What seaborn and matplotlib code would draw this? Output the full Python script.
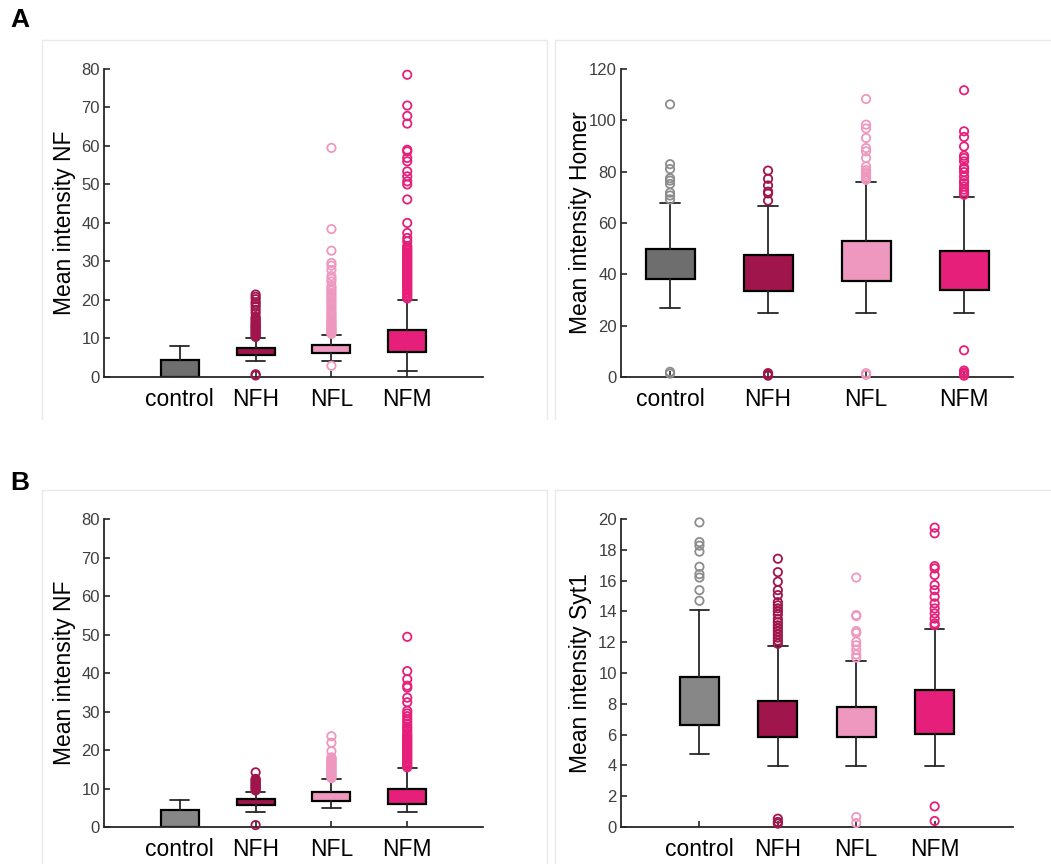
import numpy as np
import matplotlib
matplotlib.use("Agg")
import matplotlib.pyplot as plt
from matplotlib.lines import Line2D
import seaborn as sns
import pandas as pd

# ---------------------------------------------------------------
# Data
# ---------------------------------------------------------------
categories = ["control", "NFH", "NFL", "NFM"]

# A - left : Mean intensity NF
a_nf_q1 = [0.0, 5.6, 6.2, 6.4]
a_nf_q3 = [4.5, 7.5, 8.3, 12.1]
a_nf_lo = [0.0, 4.1, 4.1, 1.5]
a_nf_hi = [8.0, 10.1, 11.0, 20.1]
a_nf_fliers = [
    [],
    [0.4, 0.7, 10.4, 10.7, 11.0, 11.3, 11.6, 11.9, 12.2, 12.5, 12.8, 13.1, 13.4,
     13.7, 14.0, 14.4, 14.8, 15.2, 15.6, 16.6, 17.4, 18.2, 18.9, 19.4, 20.2, 20.8, 21.4],
    [2.9, 11.2, 11.5, 11.8, 12.1, 12.4, 12.7, 13.0, 13.4, 13.8, 14.2, 14.6, 15.0,
     15.5, 16.0, 16.5, 17.0, 17.6, 18.2, 18.8, 19.4, 20.0, 20.6, 21.2, 21.8, 22.4,
     23.0, 23.6, 24.8, 25.5, 26.2, 27.8, 28.9, 29.6, 32.8, 38.4, 59.5],
    [20.4, 20.8, 21.2, 21.6, 22.0, 22.4, 22.8, 23.2, 23.6, 24.0, 24.4, 24.8, 25.2,
     25.6, 26.0, 26.4, 26.8, 27.2, 27.6, 28.0, 28.4, 28.8, 29.2, 29.6, 30.0, 30.4,
     30.8, 31.2, 31.6, 32.0, 32.4, 32.8, 33.2, 33.6, 34.0, 35.2, 36.1, 37.4, 40.0,
     46.1, 50.0, 50.8, 52.1, 53.4, 56.0, 56.9, 58.6, 59.0, 65.8, 67.8, 70.5, 78.5],
]

# A - right : Mean intensity Homer
a_homer_q1 = [38.3, 33.6, 37.4, 34.0]
a_homer_q3 = [49.9, 47.4, 52.8, 48.9]
a_homer_lo = [26.9, 24.9, 24.9, 24.9]
a_homer_hi = [67.7, 66.8, 76.1, 70.0]
a_homer_fliers = [
    [1.3, 2.0, 69.2, 70.7, 71.8, 75.2, 76.5, 77.4, 81.0, 82.9, 106.2],
    [0.5, 1.0, 1.5, 68.7, 71.5, 72.2, 74.6, 77.2, 80.4],
    [0.8, 1.5, 76.8, 77.5, 78.2, 79.0, 79.8, 80.6, 82.0, 85.3, 87.9, 89.2, 93.1,
     96.8, 98.3, 108.3],
    [0.5, 1.2, 1.8, 2.5, 10.4, 71.0, 72.0, 73.0, 74.2, 75.5, 76.5, 78.1, 79.8,
     81.0, 81.7, 84.0, 85.3, 86.2, 89.8, 93.5, 95.7, 111.7],
]

# B - left : Mean intensity NF
b_nf_q1 = [0.0, 5.7, 6.8, 5.9]
b_nf_q3 = [4.4, 7.4, 9.2, 9.8]
b_nf_lo = [0.0, 4.0, 5.0, 4.0]
b_nf_hi = [7.0, 9.2, 12.4, 15.2]
b_nf_fliers = [
    [],
    [0.5, 9.5, 9.8, 10.1, 10.4, 10.7, 11.0, 11.3, 11.6, 11.9, 12.2, 12.5, 14.2],
    [12.7, 13.0, 13.3, 13.6, 13.9, 14.2, 14.5, 14.8, 15.1, 15.4, 15.7, 16.0, 16.3,
     16.6, 16.9, 17.2, 17.5, 17.8, 18.1, 19.7, 21.9, 23.6],
    [15.5, 15.9, 16.3, 16.7, 17.1, 17.5, 17.9, 18.3, 18.7, 19.1, 19.5, 19.9, 20.3,
     20.7, 21.1, 21.5, 21.9, 22.3, 22.7, 23.1, 23.5, 23.9, 24.4, 25.0, 25.6, 26.1,
     26.8, 27.5, 28.1, 28.8, 29.5, 30.2, 32.4, 33.6, 36.2, 36.7, 38.4, 40.5, 49.4],
]

# B - right : Mean intensity Syt1
b_syt_q1 = [6.65, 5.83, 5.83, 6.02]
b_syt_q3 = [9.71, 8.21, 7.82, 8.88]
b_syt_lo = [4.72, 3.99, 3.99, 3.99]
b_syt_hi = [14.06, 11.74, 10.81, 12.87]
b_syt_fliers = [
    [14.69, 15.38, 16.2, 16.42, 16.9, 17.88, 18.27, 18.5, 19.78],
    [0.22, 0.33, 0.54, 11.9, 12.1, 12.3, 12.5, 12.7, 12.9, 13.1, 13.3, 13.5, 13.8,
     14.0, 14.2, 14.4, 14.6, 15.06, 15.38, 15.93, 16.55, 17.42],
    [0.26, 0.65, 11.0, 11.2, 11.5, 11.8, 12.03, 12.6, 12.72, 13.7, 13.76, 16.2],
    [0.39, 1.34, 13.1, 13.22, 13.54, 13.87, 14.19, 14.52, 14.95, 15.38, 15.71,
     16.36, 16.79, 16.94, 19.07, 19.44],
]

# ---------------------------------------------------------------
# Style
# ---------------------------------------------------------------
sns.set_theme(style="ticks")
plt.rcParams['font.family'] = ['Liberation Sans', 'DejaVu Sans']

col_dark_grey = "#6e6e6e"
col_light_grey = "#878787"
col_nfh = "#a0154b"
col_nfl = "#ef98bf"
col_nfm = "#e61f7b"
flier_grey = "#8c8c8c"
axis_col = "#262626"
tick_col = "#3f3f3f"


def panneau(ax, q1, q3, lo, hi, fliers, couleurs, couleurs_fliers,
            ylim, ystep, ylabel, xlim, capw):
    positions = [1, 2, 3, 4]
    stats = []
    for i in range(4):
        stats.append(dict(q1=q1[i], q3=q3[i], med=q1[i], whislo=lo[i],
                          whishi=hi[i], fliers=[]))
    boites = ax.bxp(stats, positions=positions, widths=0.5, capwidths=capw,
                    patch_artist=True, showfliers=False,
                    boxprops=dict(edgecolor="black", linewidth=1.6),
                    whiskerprops=dict(color=axis_col, linewidth=1.3),
                    capprops=dict(color=axis_col, linewidth=1.3),
                    medianprops=dict(linewidth=0))
    for patch, c in zip(boites["boxes"], couleurs):
        patch.set_facecolor(c)
    # points aberrants
    for i in range(4):
        if len(fliers[i]) == 0:
            continue
        df = pd.DataFrame({"x": [positions[i]] * len(fliers[i]), "y": fliers[i]})
        sns.scatterplot(data=df, x="x", y="y", ax=ax, s=36, marker="o",
                        facecolor="none", edgecolor=couleurs_fliers[i],
                        linewidth=1.3, clip_on=False, zorder=3)
    ax.set_xlim(*xlim)
    ax.set_ylim(*ylim)
    ax.set_yticks(np.arange(ylim[0], ylim[1] + 0.01, ystep))
    ax.set_xticks(positions)
    ax.set_xticklabels(categories, fontsize=16.5, color="black")
    ax.tick_params(axis="y", direction="in", length=4, width=1.2,
                   color=axis_col, labelsize=12, labelcolor=tick_col, pad=3)
    ax.tick_params(axis="x", direction="in", length=4, width=1.2,
                   color=axis_col, pad=8)
    ax.set_xlabel("")
    ax.set_ylabel(ylabel, fontsize=16.5, color="black")
    ax.yaxis.set_label_coords(-0.075, 0.5)
    sns.despine(ax=ax)
    for s in ["left", "bottom"]:
        ax.spines[s].set_color(axis_col)
        ax.spines[s].set_linewidth(1.3)
    ax.set_facecolor("none")


fig = plt.figure(figsize=(10.51, 8.64), dpi=100)
fig.patch.set_facecolor("white")

W, H = 1051.0, 864.0


def cadre(x0, x1, y0, y1):
    c = "#e9e9e9"
    fig.add_artist(Line2D([x0 / W, x1 / W], [1 - y0 / H, 1 - y0 / H], color=c, lw=1,
                          transform=fig.transFigure))
    fig.add_artist(Line2D([x0 / W, x0 / W], [1 - y0 / H, 1 - y1 / H], color=c, lw=1,
                          transform=fig.transFigure))


cadre(42, 547, 40, 419)
cadre(555, 1051, 40, 419)
cadre(42, 547, 490, 864)
cadre(555, 1051, 490, 864)
fig.add_artist(Line2D([547 / W, 547 / W], [1 - 40 / H, 1 - 419 / H], color="#e9e9e9",
                      lw=1, transform=fig.transFigure))
fig.add_artist(Line2D([547 / W, 547 / W], [1 - 490 / H, 0], color="#e9e9e9",
                      lw=1, transform=fig.transFigure))

couleurs_a = [col_dark_grey, col_nfh, col_nfl, col_nfm]
couleurs_b = [col_light_grey, col_nfh, col_nfl, col_nfm]
fl_cols = [flier_grey, col_nfh, col_nfl, col_nfm]

ax1 = fig.add_axes([0.0990, 0.5637, 0.3606, 0.3565])
panneau(ax1, a_nf_q1, a_nf_q3, a_nf_lo, a_nf_hi, a_nf_fliers, couleurs_a, fl_cols,
        (0, 80), 10, "Mean intensity NF", (0, 5), 0.25)

ax2 = fig.add_axes([0.5909, 0.5637, 0.3730, 0.3565])
panneau(ax2, a_homer_q1, a_homer_q3, a_homer_lo, a_homer_hi, a_homer_fliers,
        couleurs_a, fl_cols, (0, 120), 20, "Mean intensity Homer", (0.5, 4.5), 0.2)

ax3 = fig.add_axes([0.0990, 0.0428, 0.3606, 0.3565])
panneau(ax3, b_nf_q1, b_nf_q3, b_nf_lo, b_nf_hi, b_nf_fliers, couleurs_b, fl_cols,
        (0, 80), 10, "Mean intensity NF", (0, 5), 0.25)

ax4 = fig.add_axes([0.5909, 0.0428, 0.3730, 0.3565])
panneau(ax4, b_syt_q1, b_syt_q3, b_syt_lo, b_syt_hi, b_syt_fliers, couleurs_b,
        fl_cols, (0, 20), 2, "Mean intensity Syt1", (0, 5), 0.25)

fig.text(20 / W, 1 - 20 / H, "A", fontsize=19, fontweight="bold", ha="center",
         va="center", color="black")
fig.text(20 / W, 1 - 483 / H, "B", fontsize=19, fontweight="bold", ha="center",
         va="center", color="black")

fig.savefig("out.png", dpi=100)
